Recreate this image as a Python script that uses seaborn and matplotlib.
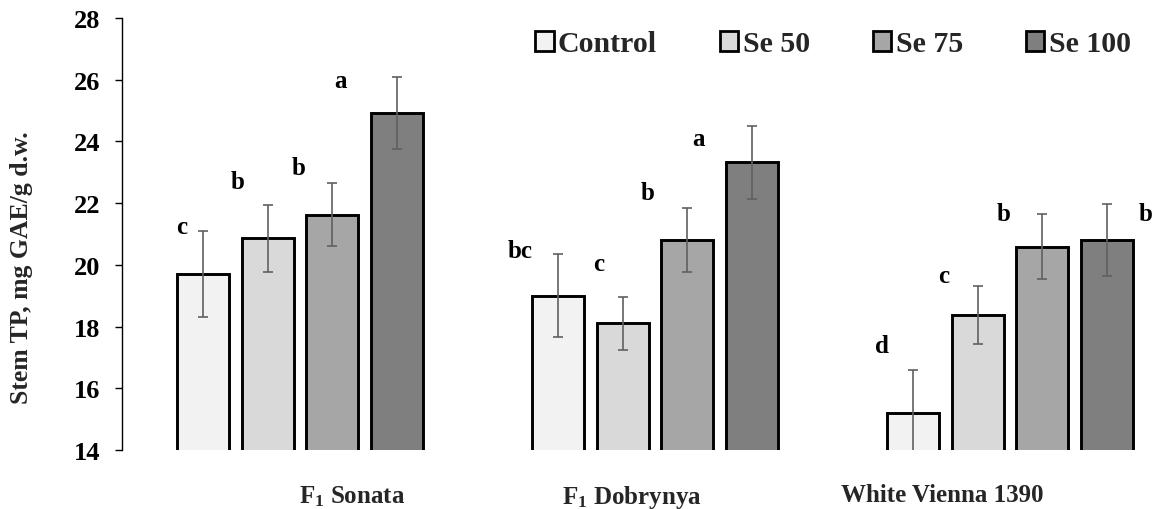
import numpy as np
import pandas as pd
import matplotlib
matplotlib.use("Agg")
import matplotlib.pyplot as plt
import matplotlib.transforms as mtransforms
from matplotlib.patches import Patch
import seaborn as sns

# ---------------- data ----------------
cultivars = ["F$_1$ Sonata", "F$_1$ Dobrynya", "White Vienna 1390"]
treatments = ["Control", "Se 50", "Se 75", "Se 100"]

sonata = [19.70, 20.86, 21.63, 24.91]
dobrynya = [19.00, 18.11, 20.81, 23.32]
vienna = [15.19, 18.38, 20.59, 20.81]

sonata_err = [1.40, 1.09, 1.01, 1.17]
dobrynya_err = [1.35, 0.86, 1.03, 1.19]
vienna_err = [1.40, 0.93, 1.06, 1.16]

sonata_letters = ["c", "b", "b", "a"]
dobrynya_letters = ["bc", "c", "b", "a"]
vienna_letters = ["d", "c", "b", "b"]

# heights (data units) at which the significance letters sit
sonata_letter_y = [21.23, 22.69, 23.17, 25.96]
dobrynya_letter_y = [20.46, 20.03, 22.35, 24.10]
vienna_letter_y = [17.40, 19.67, 21.65, 21.65]

y_ticks = [14, 16, 18, 20, 22, 24, 26, 28]
y_label = "Stem TP, mg GAE/g d.w."

# ---------------- layout / style ----------------
colors = ["#f2f2f2", "#d9d9d9", "#a6a6a6", "#7f7f7f"]
letter_dx_px = [[-21.5, -30.5, -34, -56],
                [-38, -24.5, -40, -53],
                [-31, -34, -39, 39]]
xlabel_dx_px = [52, -23, -68]

sns.set_style("ticks")
plt.rcParams["font.family"] = ["Liberation Serif", "DejaVu Serif"]
plt.rcParams["font.weight"] = "bold"
plt.rcParams["mathtext.fontset"] = "custom"
plt.rcParams["mathtext.rm"] = "Liberation Serif:bold"
plt.rcParams["mathtext.it"] = "Liberation Serif:bold"
plt.rcParams["mathtext.bf"] = "Liberation Serif:bold"
plt.rcParams["mathtext.default"] = "rm"

W, H = 1158, 510
fig = plt.figure(figsize=(W / 100, H / 100), dpi=100)
ax_left, ax_right, ax_top, ax_bottom = 122, 1150, 19, 451
ax = fig.add_axes([ax_left / W, 1 - ax_bottom / H,
                   (ax_right - ax_left) / W, (ax_bottom - ax_top) / H])

means = [sonata, dobrynya, vienna]
errs = [sonata_err, dobrynya_err, vienna_err]
letters = [sonata_letters, dobrynya_letters, vienna_letters]
letter_y = [sonata_letter_y, dobrynya_letter_y, vienna_letter_y]

rows = []
for ci, c in enumerate(cultivars):
    for ti, t in enumerate(treatments):
        rows.append({"cultivar": c, "treatment": t, "value": means[ci][ti],
                     "err": errs[ci][ti]})
df = pd.DataFrame(rows)

sns.barplot(data=df, x="cultivar", y="value", hue="treatment",
            order=cultivars, hue_order=treatments, palette=colors,
            width=0.726, gap=0.196, edgecolor="black", linewidth=2.1,
            errorbar=None, legend=False, ax=ax, zorder=2)

px_per_unit = 355.0
ax.set_xlim(-(300 - ax_left) / px_per_unit,
            -(300 - ax_left) / px_per_unit + (ax_right - ax_left) / px_per_unit)
ax.set_ylim(14, 28)
ax.set_yticks(y_ticks)

# error bars and letters, positioned from the drawn bars
bar_containers = list(ax.containers)
for ti, cont in enumerate(bar_containers):
    for ci, bar in enumerate(cont.patches):
        xc = bar.get_x() + bar.get_width() / 2
        yv = bar.get_height()
        ax.errorbar(xc, yv, yerr=errs[ci][ti], fmt="none", ecolor="#606060",
                    elinewidth=1.2, capsize=3.4, capthick=1.2, zorder=3)
        tr = mtransforms.offset_copy(ax.transData, fig=fig,
                                     x=letter_dx_px[ci][ti] * 0.72, y=0,
                                     units="points")
        ax.text(xc, letter_y[ci][ti], letters[ci][ti], transform=tr,
                ha="center", va="center", fontsize=18, fontweight="bold",
                color="black")

# axes styling
for s in ["top", "right", "bottom"]:
    ax.spines[s].set_visible(False)
ax.spines["left"].set_linewidth(1.0)
ax.spines["left"].set_color("black")
ax.tick_params(axis="y", direction="out", length=5, width=1.0, pad=10.5,
               labelsize=19, colors="black")
ax.tick_params(axis="x", length=0, pad=24, labelsize=18)
for lab in ax.get_yticklabels():
    lab.set_fontweight("bold")
for i, lab in enumerate(ax.get_xticklabels()):
    lab.set_fontweight("bold")
    lab.set_transform(lab.get_transform() + mtransforms.ScaledTranslation(
        xlabel_dx_px[i] / 100, 0, fig.dpi_scale_trans))
ax.set_xlabel("")
ax.set_ylabel(y_label, fontsize=18.5, fontweight="bold")
ax.yaxis.label.set_va("center")
ax.yaxis.set_label_coords((22 - ax_left) / (ax_right - ax_left),
                          (ax_bottom - 268) / (ax_bottom - ax_top))

# legend
handles = [Patch(facecolor=c, edgecolor="black", linewidth=2.0) for c in colors]
leg = ax.legend(handles, treatments, ncol=4, loc="center left",
                bbox_to_anchor=(535 / W, 1 - 45 / H),
                bbox_transform=fig.transFigure, frameon=False,
                prop={"family": "Liberation Serif", "weight": "bold", "size": 21.5},
                handlelength=0.62, handleheight=0.62, handletextpad=0.15,
                columnspacing=2.1, borderpad=0, borderaxespad=0)

fig.savefig("out.png", dpi=100, facecolor="white")
